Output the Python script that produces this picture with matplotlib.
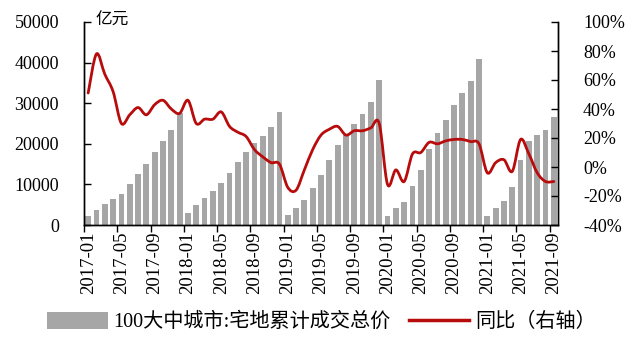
import numpy as np
import matplotlib
matplotlib.use("Agg")
import matplotlib.pyplot as plt
from matplotlib.patches import Patch, PathPatch
from matplotlib.lines import Line2D
from matplotlib.path import Path

# ===== DATA =====
months = [f"{y}-{m:02d}" for y in range(2017, 2022) for m in range(1, 13)][:57]

# 100大中城市: 宅地累计成交总价 (亿元)
land_value = [
    2200, 3700, 5250, 6400, 7700, 10200, 12560, 15000, 18000, 20700, 23400, 27500,
    3000, 4900, 6650, 8400, 10400, 12800, 15500, 18000, 20100, 21900, 24200, 27800,
    2460, 4200, 6150, 9100, 12400, 16000, 19700, 22200, 25000, 27300, 30300, 35700,
    2200, 4200, 5650, 9600, 13500, 18700, 22700, 25900, 29500, 32500, 35500, 40800,
    2200, 4200, 5900, 9400, 16000, 20700, 22200, 23400, 26600,
]

# 同比 (%), right axis
yoy = [
    51, 78, 64, 52, 30, 36, 41, 36, 43, 46, 40, 37,
    46, 30, 33, 33, 38, 28, 24, 21, 12, 7, 3, 2,
    -14, -16, -2, 12, 22, 26, 28, 22, 25, 25, 27, 30,
    -12, -2, -10, 9, 10, 17, 16, 18, 19, 19, 17.5, 16,
    -4, 3, 5, -3, 19, 9, -4, -10, -10,
]

serif = ["Liberation Serif", "Noto Sans CJK SC"]
cjk = ["Noto Sans CJK SC", "Liberation Serif"]
bar_color = "#a6a6a6"
line_color = "#b80c0c"


def smooth_path(xs, ys, tension=1 / 6):
    # smoothed line like a spreadsheet chart: Bezier segments through every point
    xs = np.asarray(xs, float)
    ys = np.asarray(ys, float)
    verts = [(xs[0], ys[0])]
    codes = [Path.MOVETO]
    n = len(xs)
    for i in range(n - 1):
        p0 = i - 1 if i > 0 else i
        p3 = i + 2 if i + 2 < n else i + 1
        c1 = (xs[i] + (xs[i + 1] - xs[p0]) * tension, ys[i] + (ys[i + 1] - ys[p0]) * tension)
        c2 = (xs[i + 1] - (xs[p3] - xs[i]) * tension, ys[i + 1] - (ys[p3] - ys[i]) * tension)
        verts += [c1, c2, (xs[i + 1], ys[i + 1])]
        codes += [Path.CURVE4] * 3
    return Path(verts, codes)


fig = plt.figure(figsize=(6.37, 3.41), dpi=100)
ax = fig.add_axes([84 / 637, 1 - 225 / 341, (558 - 84) / 637, (225 - 22) / 341])
ax2 = ax.twinx()

x = np.arange(len(months))
ax.bar(x, land_value, width=0.7, color=bar_color, zorder=1)
ax2.add_patch(PathPatch(smooth_path(x, yoy), facecolor="none", edgecolor=line_color,
                        lw=2.0, joinstyle="round", capstyle="round", zorder=3))

ax.set_xlim(-0.5, len(months) - 0.5)
ax.set_ylim(0, 50000)
ax.set_yticks(np.arange(0, 50001, 10000))
ax2.set_ylim(-40, 100)
ax2.set_yticks(np.arange(-40, 101, 20))
ax2.set_yticklabels([f"{v}%" for v in range(-40, 101, 20)])

# x ticks: labels every 4 months, tick marks at category boundaries
ax.set_xticks(x[::4])
ax.set_xticklabels(months[::4], rotation=90, family=serif, fontsize=13.5)
ax.set_xticks(np.arange(-0.5, len(months), 4), minor=True)
ax.tick_params(axis="x", which="major", length=0, pad=5)
ax.tick_params(axis="x", which="minor", length=5, direction="out", width=1)

ax.tick_params(axis="y", direction="in", length=5, width=1, pad=18)
ax2.tick_params(axis="y", direction="in", length=5, width=1, pad=18)
for lab in ax.get_yticklabels() + ax2.get_yticklabels():
    lab.set_family(serif)
    lab.set_fontsize(13)

for a in (ax, ax2):
    a.spines["top"].set_visible(False)
    for s in ("left", "right", "bottom"):
        a.spines[s].set_linewidth(1.0)
        a.spines[s].set_color("black")

ax.text(0.025, 1.01, "亿元", transform=ax.transAxes, family=cjk, fontsize=12,
        ha="left", va="center")

handles = [Patch(facecolor=bar_color, edgecolor="none"),
           Line2D([0], [0], color=line_color, lw=2.5)]
labels = ["100大中城市:宅地累计成交总价", "同比（右轴）"]
fig.legend(handles, labels, loc="center", bbox_to_anchor=(0.505, 1 - 322 / 341),
           ncol=2, frameon=False, prop={"family": serif, "size": 14.5},
           handlelength=3.0, handleheight=0.9, columnspacing=0.9, handletextpad=0.3)

fig.savefig("out.png", dpi=100)
